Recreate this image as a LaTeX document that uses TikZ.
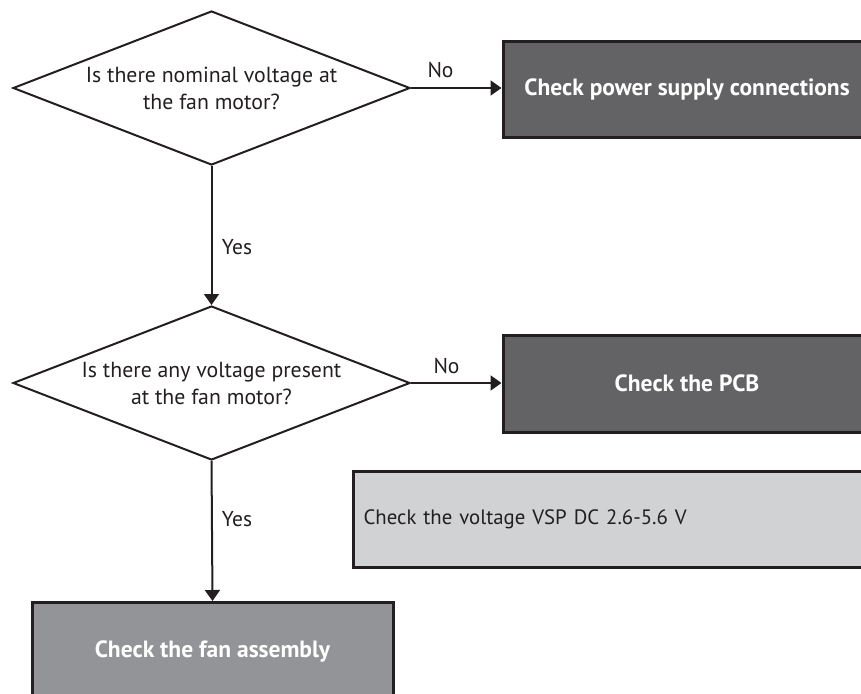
\documentclass[tikz,border=0pt]{standalone}
\usepackage{fontspec}
\setmainfont{PT Sans}
\usetikzlibrary{shapes.geometric,arrows.meta}
\definecolor{edge}{HTML}{231F20}
\definecolor{darkbox}{HTML}{636365}
\definecolor{midbox}{HTML}{939497}
\definecolor{lightbox}{HTML}{D1D2D4}
\tikzset{
  question/.style={draw=edge, line width=2pt, diamond, aspect=2.578, minimum width=397pt, minimum height=154pt, inner sep=0pt, align=center, font=\fontsize{21.8}{27}\selectfont, text=edge},
  action/.style={draw=edge, line width=3pt, rectangle, inner sep=0pt, font=\fontsize{23.5}{28}\selectfont\bfseries, text=white},
  note/.style={draw=edge, line width=3pt, rectangle, fill=lightbox, inner xsep=10pt, inner ysep=0pt, text width=499pt, align=left, minimum height=96pt, font=\fontsize{20.8}{26}\selectfont, text=edge},
  flow/.style={draw=edge, line width=2pt, -{Triangle[length=11pt,width=15pt]}},
  lbl/.style={font=\fontsize{21.5}{27}\selectfont, text=edge, inner sep=0pt}
}
\begin{document}
\begin{tikzpicture}[x=1pt,y=-1pt]
\useasboundingbox (0,0) rectangle (861,693);
\clip (0,0) rectangle (861,693);
\node[question] (d1) at (211.5,88) {Is there nominal voltage at\\the fan motor?};
\node[question] (d2) at (211.5,383) {Is there any voltage present\\at the fan motor?};
\node[action, fill=darkbox, minimum width=368pt, minimum height=95pt] (b1) at (687,89.5) {Check power supply connections};
\node[action, fill=darkbox, minimum width=368pt, minimum height=97pt] (b2) at (687,383.5) {Check the PCB};
\node[note, anchor=west] (b3) at (352,519) {Check the voltage VSP DC 2.6-5.6 V};
\node[action, fill=midbox, minimum width=361pt, minimum height=99pt] (b4) at (212.5,652) {Check the fan assembly};
\draw[flow] (d1.east) -- (d1.east -| b1.west);
\draw[flow] (d2.east) -- (d2.east -| b2.west);
\draw[flow] (d1.south) -- (d2.north);
\draw[flow] (d2.south) -- (b4.north);
\node[lbl] (n1) at (440.5,70) {No};
\node[lbl] (n2) at (446.5,366) {No};
\node[lbl] (y1) at (237,247) {Yes};
\node[lbl] (y2) at (237,519) {Yes};
\end{tikzpicture}
\end{document}
